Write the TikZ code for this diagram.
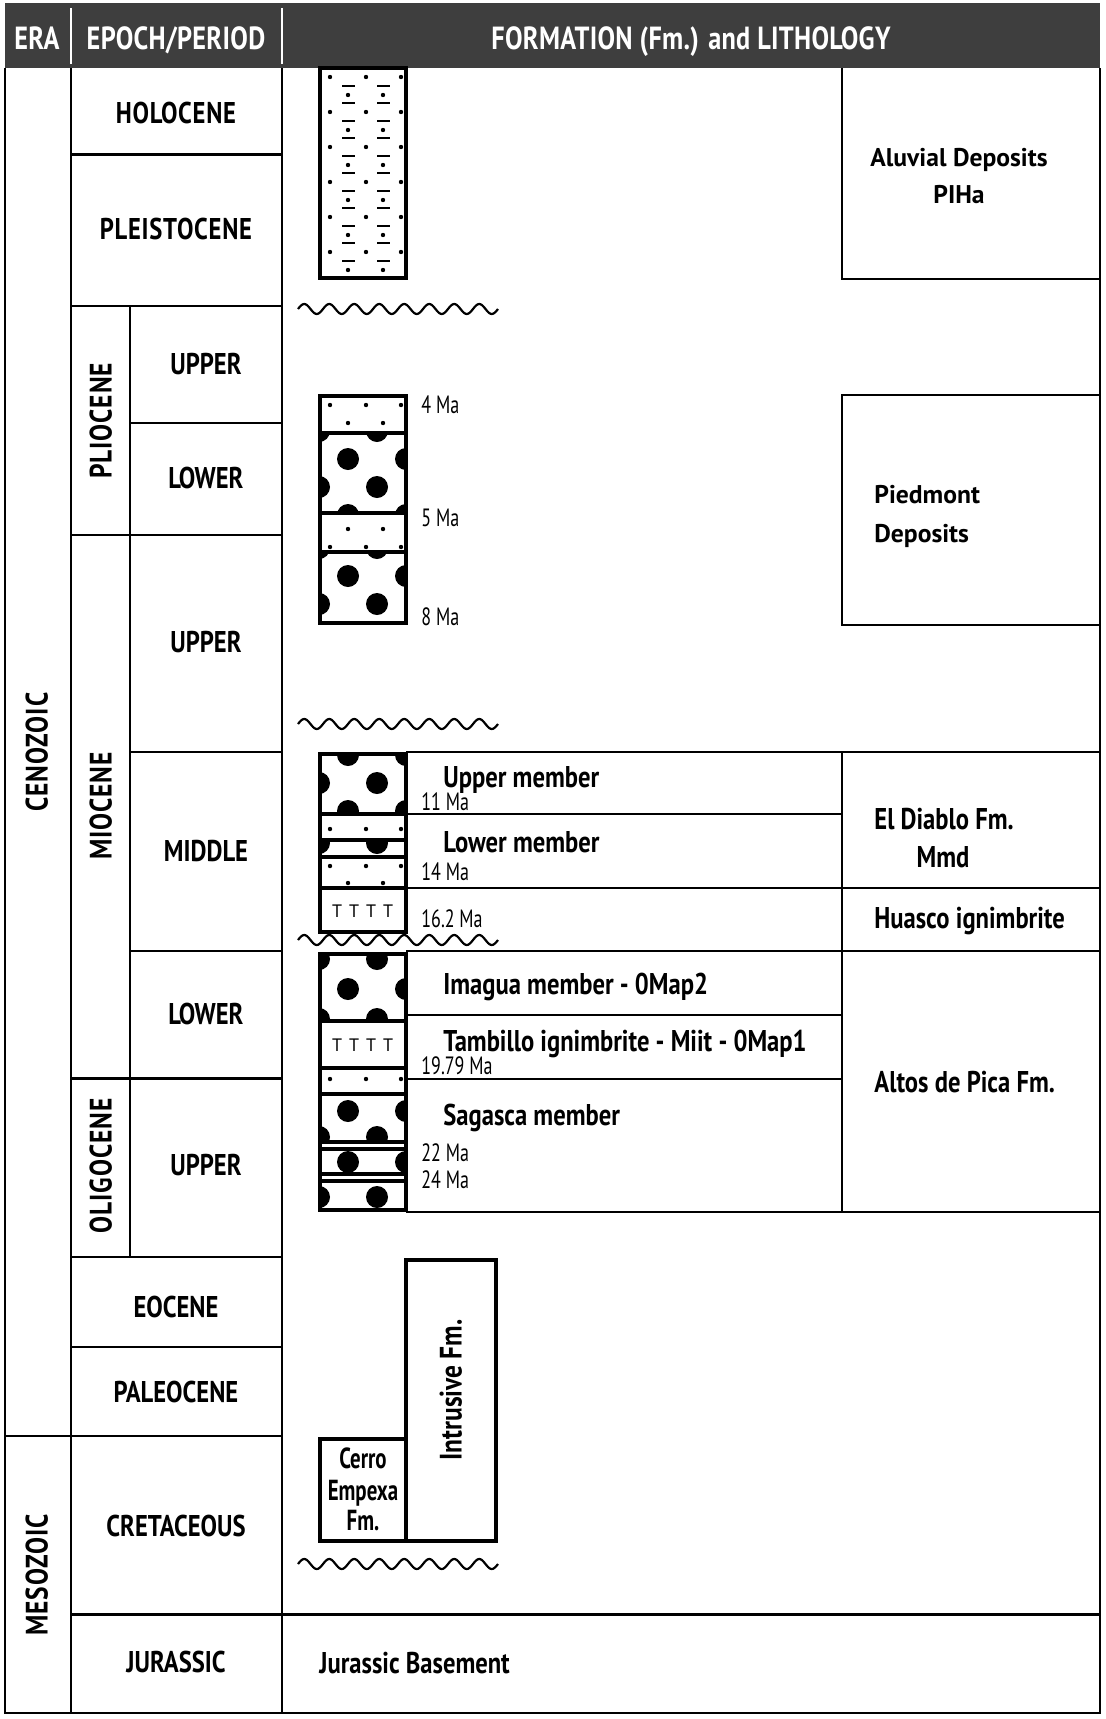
\documentclass[tikz,border=0pt]{standalone}
\usepackage{fontspec}
\setmainfont{PT Sans}
\newfontfamily\cnd{PT Sans}[FakeStretch=0.82]
\newfontfamily\cndsp{PT Sans}[FakeStretch=0.82, LetterSpace=2.5]
\newfontfamily\cndhd{PT Sans}[FakeStretch=0.82, LetterSpace=1]
\newfontfamily\cndrot{PT Sans}[FakeStretch=0.82, LetterSpace=3]
\newfontfamily\cndx{PT Sans}[FakeStretch=0.72]
\definecolor{hdrgray}{HTML}{3E3E3E}
\newcommand\congl[7]{%
\begin{scope}
\clip (#1,#2) rectangle (#3,#4);
\foreach \k in {0,...,5}{%
 \pgfmathsetmacro\yy{#5+#7*\k}%
 \pgfmathtruncatemacro\ctype{mod(#6+\k,2)}%
 \ifnum\ctype=0
   \fill (348,\yy) circle[radius=5.5pt];
   \fill (406,\yy) circle[radius=5.5pt];
 \else
   \fill (319,\yy) circle[radius=5.5pt];
   \fill (377,\yy) circle[radius=5.5pt];
 \fi
}%
\end{scope}}
\newcommand\sandthree[1]{\foreach \xx in {330,366,401}{\fill (\xx,#1) circle[radius=1.1pt];}}
\newcommand\sandtwo[1]{\foreach \xx in {348,383}{\fill (\xx,#1) circle[radius=1.1pt];}}
\newcommand\tees[1]{\foreach \xx in {337,354,371,388}{\node[tmark] at (\xx,#1) {T};}}
\newcommand\wavy[1]{\draw[wave] plot[domain=0:200, samples=161] ({298+\x}, {#1-5*sin(14.4*\x)});}
\begin{document}
\begin{tikzpicture}[x=0.5pt, y=-0.5pt, line join=miter,
 grid/.style={line width=1.45pt},
 colbox/.style={line width=2pt},
 wave/.style={line width=1.1pt},
 epochlbl/.style={font=\cnd\bfseries\fontsize{15}{18}\selectfont, inner sep=0pt, text height=10.5pt, text depth=0pt},
 epochsp/.style={epochlbl, font=\cndsp\bfseries\fontsize{15}{18}\selectfont},
 rotlbl/.style={epochlbl, font=\cndrot\bfseries\fontsize{15.5}{18}\selectfont, rotate=90},
 hdrlbl/.style={font=\cndhd\bfseries\fontsize{16}{18}\selectfont, text=white, inner sep=0pt, text height=11.2pt, text depth=0pt},
 fmlbl/.style={font=\cnd\bfseries\fontsize{15}{18}\selectfont, inner sep=0pt, text height=10.5pt, text depth=0pt},
 smlbl/.style={font=\cndx\bfseries\fontsize{14.5}{17}\selectfont, inner sep=0pt, text height=10.1pt, text depth=0pt},
 widelbl/.style={font=\bfseries\fontsize{12.8}{15}\selectfont, inner sep=0pt, text height=9pt, text depth=0pt},
 malbl/.style={font=\cndx\fontsize{12.5}{14}\selectfont, inner sep=0pt, text height=8.7pt, text depth=0pt, anchor=west},
 tmark/.style={font=\fontsize{9}{10}\selectfont, inner sep=0pt}]
\useasboundingbox (0,0) rectangle (1106,1719);
% header
\fill[hdrgray] (5,3) rectangle (1100,68);
\draw[white, line width=1.2pt] (71,8) -- (71,64) (282,8) -- (282,64);
\node[hdrlbl] (hera) at (37,38) {ERA};
\node[hdrlbl] (hepoch) at (176,38) {EPOCH/PERIOD};
\node[hdrlbl] (hform) at (691,38) {FORMATION (Fm.) and LITHOLOGY};
% table frame
\draw[grid] (5,68) -- (5,1713) -- (1100,1713) -- (1100,68);
\draw[grid] (71,68) -- (71,1713) (282,68) -- (282,1713) (130,306) -- (130,1257);
\draw[grid] (71,154.5) -- (282,154.5) (71,306) -- (282,306) (130,423) -- (282,423)
  (71,535) -- (282,535) (130,752) -- (282,752) (130,951) -- (282,951)
  (71,1078.5) -- (282,1078.5) (71,1257) -- (282,1257) (71,1347) -- (282,1347)
  (5,1436) -- (282,1436) (71,1614.5) -- (1100,1614.5);
% era and epoch labels
\node[rotlbl] (cenozoic) at (37,752) {CENOZOIC};
\node[rotlbl] (mesozoic) at (37,1575) {MESOZOIC};
\node[epochsp] (holocene) at (176,113) {HOLOCENE};
\node[epochsp] (pleisto) at (176,229) {PLEISTOCENE};
\node[rotlbl] (pliocene) at (101,421) {PLIOCENE};
\node[epochlbl] (plioup) at (206,364) {UPPER};
\node[epochlbl] (pliolow) at (206,478) {LOWER};
\node[rotlbl] (miocene) at (101,806) {MIOCENE};
\node[epochlbl] (mioup) at (206,642) {UPPER};
\node[epochlbl] (miomid) at (206,851) {MIDDLE};
\node[epochlbl] (miolow) at (206,1014) {LOWER};
\node[rotlbl] (oligo) at (101,1166) {OLIGOCENE};
\node[epochlbl] (oligoup) at (206,1165) {UPPER};
\node[epochlbl] (eocene) at (176,1307) {EOCENE};
\node[epochlbl] (paleo) at (176,1392) {PALEOCENE};
\node[epochlbl] (creta) at (176,1526) {CRETACEOUS};
\node[epochlbl] (jura) at (176,1662) {JURASSIC};
% formation grid
\draw[grid] (842,68) -- (842,279) -- (1100,279);
\draw[grid] (842,395) rectangle (1100,625);
\draw[grid] (406,752) -- (1100,752) (406,814) -- (842,814) (406,888) -- (1100,888)
  (406,951) -- (1100,951) (406,1015) -- (842,1015) (406,1079) -- (842,1079)
  (406,1212) -- (1100,1212) (842,752) -- (842,1212);
% column 1: alluvial
\foreach \i in {0,...,5}{%
  \pgfmathsetmacro\ya{77+35*\i}%
  \pgfmathsetmacro\yb{\ya+9}%
  \pgfmathsetmacro\yc{\ya+18}%
  \sandthree{\ya}
  \draw[line width=0.6pt] (342,\yb) -- (355,\yb) (377,\yb) -- (390,\yb);
  \sandtwo{\yc}
}
\foreach \i in {0,...,4}{%
  \pgfmathsetmacro\yd{103+35*\i}%
  \draw[line width=0.6pt] (342,\yd) -- (355,\yd) (377,\yd) -- (390,\yd);
}
\draw[colbox] (320,68) rectangle (406,278);
% column 2: Pliocene
\sandthree{405}\sandtwo{423}
\congl{320}{433}{406}{513}{431}{1}{28}
\sandtwo{529}\sandthree{547}
\congl{320}{552}{406}{623}{548}{1}{28}
\draw[colbox] (320,433) -- (406,433) (320,513) -- (406,513) (320,552) -- (406,552);
\draw[colbox] (320,396) rectangle (406,623);
% column 3: middle Miocene
\congl{320}{754}{406}{814}{755}{0}{28}
\sandthree{829}
\congl{320}{840}{406}{857}{843}{1}{28}
\sandthree{866}\sandtwo{883}
\tees{911}
\draw[colbox] (320,814) -- (406,814) (320,840) -- (406,840) (320,857) -- (406,857) (320,888) -- (406,888);
\draw[colbox] (320,754) rectangle (406,932);
% column 4: lower Miocene - Oligocene
\congl{320}{954}{406}{1021}{959}{1}{30}
\tees{1045}
\sandthree{1079}
\congl{320}{1094}{406}{1142}{1111}{0}{26}
\congl{320}{1149}{406}{1174}{1162}{0}{28}
\congl{320}{1181}{406}{1210}{1197}{1}{28}
\draw[colbox] (320,1021) -- (406,1021) (320,1068) -- (406,1068) (320,1094) -- (406,1094)
  (320,1142) -- (406,1142) (320,1149) -- (406,1149) (320,1174) -- (406,1174) (320,1181) -- (406,1181);
\draw[colbox] (320,954) rectangle (406,1210);
% Cerro Empexa and Intrusive
\draw[colbox] (320,1439) rectangle (406,1541);
\draw[colbox] (406,1260) rectangle (496,1541);
\node[smlbl] (cerro1) at (363,1458) {Cerro};
\node[smlbl] (cerro2) at (363,1490) {Empexa};
\node[smlbl] (cerro3) at (363,1520) {Fm.};
\node[fmlbl, rotate=90, font=\cnd\bfseries\fontsize{15.5}{18}\selectfont] (intrus) at (451,1390) {Intrusive Fm.};
% unconformities
\wavy{309}
\wavy{724}
\wavy{940}
\wavy{1564}
% ages
\node[malbl] (ma4) at (421,405) {4 Ma};
\node[malbl] (ma5) at (421,518) {5 Ma};
\node[malbl] (ma8) at (421,617) {8 Ma};
\node[malbl] (ma11) at (421,802) {11 Ma};
\node[malbl] (ma14) at (421,872) {14 Ma};
\node[malbl] (ma16) at (421,919) {16.2 Ma};
\node[malbl] (ma19) at (421,1066) {19.79 Ma};
\node[malbl] (ma22) at (421,1153) {22 Ma};
\node[malbl] (ma24) at (421,1180) {24 Ma};
% members
\node[fmlbl, anchor=west] (upmem) at (443,777) {Upper member};
\node[fmlbl, anchor=west] (lowmem) at (443,842) {Lower member};
\node[fmlbl, anchor=west] (imagua) at (443,984) {Imagua member - 0Map2};
\node[fmlbl, anchor=west] (tambillo) at (443,1041) {Tambillo ignimbrite - Miit - 0Map1};
\node[fmlbl, anchor=west] (sagasca) at (443,1115) {Sagasca member};
% formations
\node[widelbl] (al1) at (959,157) {Aluvial Deposits};
\node[widelbl] (al2) at (959,194) {PIHa};
\node[widelbl, anchor=west] (pd1) at (874,494) {Piedmont};
\node[widelbl, anchor=west] (pd2) at (874,533) {Deposits};
\node[fmlbl, anchor=west] (ed1) at (874,819) {El Diablo Fm.};
\node[fmlbl] (ed2) at (943,857) {Mmd};
\node[fmlbl, anchor=west] (huasco) at (874,918) {Huasco ignimbrite};
\node[fmlbl, anchor=west] (altos) at (874,1082) {Altos de Pica Fm.};
\node[fmlbl, anchor=west] (jurbase) at (319,1663) {Jurassic Basement};
\end{tikzpicture}
\end{document}
